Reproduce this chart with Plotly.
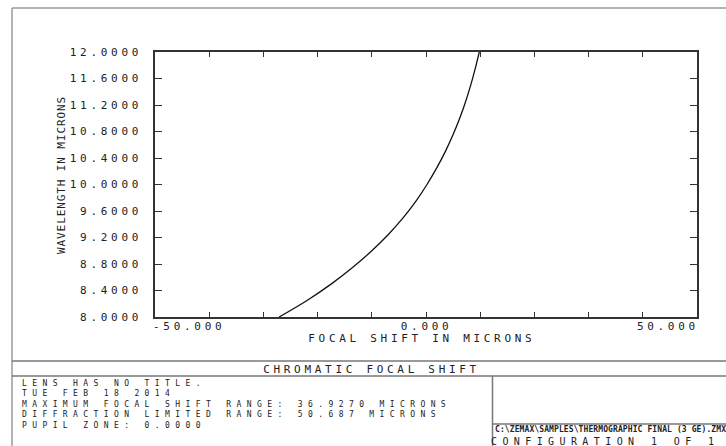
import plotly.graph_objects as go

# ---- data ----
wavelength = [8.0, 8.25, 8.5, 8.75, 9.0, 9.25, 9.5, 9.75, 10.0, 10.25, 10.5, 10.75, 11.0, 11.25, 11.5, 11.75, 12.0]
focal_shift = [-27.10, -21.95, -17.45, -13.50, -10.00, -6.90, -4.20, -1.85, 0.18, 1.98, 3.58, 4.98, 6.22, 7.30, 8.25, 9.08, 9.83]

y_tick_vals = [8.0, 8.4, 8.8, 9.2, 9.6, 10.0, 10.4, 10.8, 11.2, 11.6, 12.0]
y_tick_text = ["%.4f" % v for v in y_tick_vals]
x_label_vals = [-50, 0, 50]
x_label_text = ["-50.000", "0.000", "50.000"]

title_text = "CHROMATIC FOCAL SHIFT"
x_title = "FOCAL SHIFT IN MICRONS"
y_title = "WAVELENGTH IN MICRONS"
info_lines = [
    "LENS HAS NO TITLE.",
    "TUE FEB 18 2014",
    "MAXIMUM FOCAL SHIFT RANGE: 36.9270 MICRONS",
    "DIFFRACTION LIMITED RANGE: 50.687 MICRONS",
    "PUPIL ZONE: 0.0000",
]
file_text = "C:\\ZEMAX\\SAMPLES\\THERMOGRAPHIC FINAL (3 GE).ZMX"
config_text = "CONFIGURATION 1 OF 1"

# ---- layout geometry (pixels) ----
W, H = 726, 446
L, R, T, B = 155, 29, 52, 129
PW, PH = W - L - R, H - T - B
FONT = "DejaVu Sans Mono"
COL = "#222222"
CW = 10.3    # char pitch of the wide plotter font
LS = 3.7     # letter spacing added by css (size 11)


def px(x):
    return (x - L) / PW


def py(y):
    return (H - B - y) / PH


fig = go.Figure()
fig.add_trace(go.Scatter(x=focal_shift, y=wavelength, mode="lines",
                         line=dict(color="#111111", width=1.3, shape="spline", smoothing=1.0),
                         hoverinfo="skip", showlegend=False))

annotations = []


def add_text(text, cx, cy, size=11, angle=0, bold=False, xanchor="center", align="center"):
    annotations.append(dict(text=text, xref="paper", yref="paper", x=px(cx), y=py(cy),
                            xanchor=xanchor, yanchor="middle", showarrow=False, align=align,
                            textangle=angle,
                            font=dict(family=FONT, size=size, color=COL,
                                      weight="bold" if bold else "normal")))
    return len(annotations) - 1


# x tick labels through the x axis
for i, (v, t) in enumerate(zip(x_label_vals, x_label_text)):
    wdt = len(t) * CW - LS
    shift = 0
    if i == 0:
        shift = wdt / 2
    elif i == len(x_label_vals) - 1:
        shift = -wdt / 2
    annotations.append(dict(text=t, xref="x", yref="paper", x=v, y=0, xshift=shift, yshift=-9.5,
                            xanchor="center", yanchor="middle", showarrow=False,
                            font=dict(family=FONT, size=11, color=COL)))

add_text(x_title, 421.5, 338)
iy = add_text(y_title, 61, 175.5, angle=-90)
add_text(title_text, 371, 369)
iinfo = add_text("<br>".join(info_lines), 20, 384 + 2 * 10.4, size=8, xanchor="left", align="left")
ifile = add_text(file_text, 493, 429.5, size=8, bold=True, xanchor="left", align="left")
iconf = add_text(config_text, 494 + (len(config_text) * 11.4 - 5.4) / 2, 441.5, size=10)

shapes = []
frame = dict(color="#9a9a9a", width=1.5)
sep = dict(color="#777777", width=1.5)
shapes.append(dict(type="line", xref="paper", yref="paper", x0=px(12), x1=px(760), y0=py(8), y1=py(8), line=frame))
shapes.append(dict(type="line", xref="paper", yref="paper", x0=px(12), x1=px(12), y0=py(8), y1=py(470), line=frame))
shapes.append(dict(type="line", xref="paper", yref="paper", x0=px(12), x1=px(760), y0=py(361), y1=py(361), line=sep))
shapes.append(dict(type="line", xref="paper", yref="paper", x0=px(12), x1=px(760), y0=py(376), y1=py(376), line=sep))
shapes.append(dict(type="line", xref="paper", yref="paper", x0=px(492.5), x1=px(492.5), y0=py(376), y1=py(470), line=sep))
shapes.append(dict(type="line", xref="paper", yref="paper", x0=px(492.5), x1=px(760), y0=py(424), y1=py(424), line=sep))

fig.update_layout(
    width=W, height=H, margin=dict(l=L, r=R, t=T, b=B, autoexpand=False),
    paper_bgcolor="white", plot_bgcolor="white",
    annotations=annotations, shapes=shapes,
    xaxis=dict(range=[-50, 50], tick0=-50, dtick=10, ticks="inside", ticklen=5, tickwidth=1.2,
               tickcolor="#333333", showline=True, linecolor="#333333", linewidth=1.5,
               mirror="ticks", showgrid=False, zeroline=False, showticklabels=False, fixedrange=True),
    yaxis=dict(range=[8, 12], tickvals=y_tick_vals, ticktext=y_tick_text, ticks="inside", ticklen=7,
               tickwidth=1.2, tickcolor="#333333", showline=True, linecolor="#333333", linewidth=1.5,
               mirror="ticks", showgrid=False, zeroline=False, ticklabelstandoff=9,
               tickfont=dict(family=FONT, size=11, color=COL), fixedrange=True),
)

css = (
    ".ytick text{letter-spacing:%spx;}"
    ".annotation-text{letter-spacing:%spx;}"
    "g.annotation[data-index=\"%d\"] .annotation-text{letter-spacing:0.9px;}"
    "g.annotation[data-index=\"%d\"] .annotation-text{letter-spacing:5.4px;}"
    "g.annotation[data-index=\"%d\"] .annotation-text{letter-spacing:0.1px;}"
    "g.annotation[data-index=\"%d\"] .annotation-text{letter-spacing:5.4px;}"
) % (LS, LS, iy, iinfo, ifile, iconf)
post = "var s=document.createElement('style');s.textContent='%s';document.head.appendChild(s);" % css.replace("'", "\\'")

fig.write_html("out.html", config={"displayModeBar": False}, post_script=post)
